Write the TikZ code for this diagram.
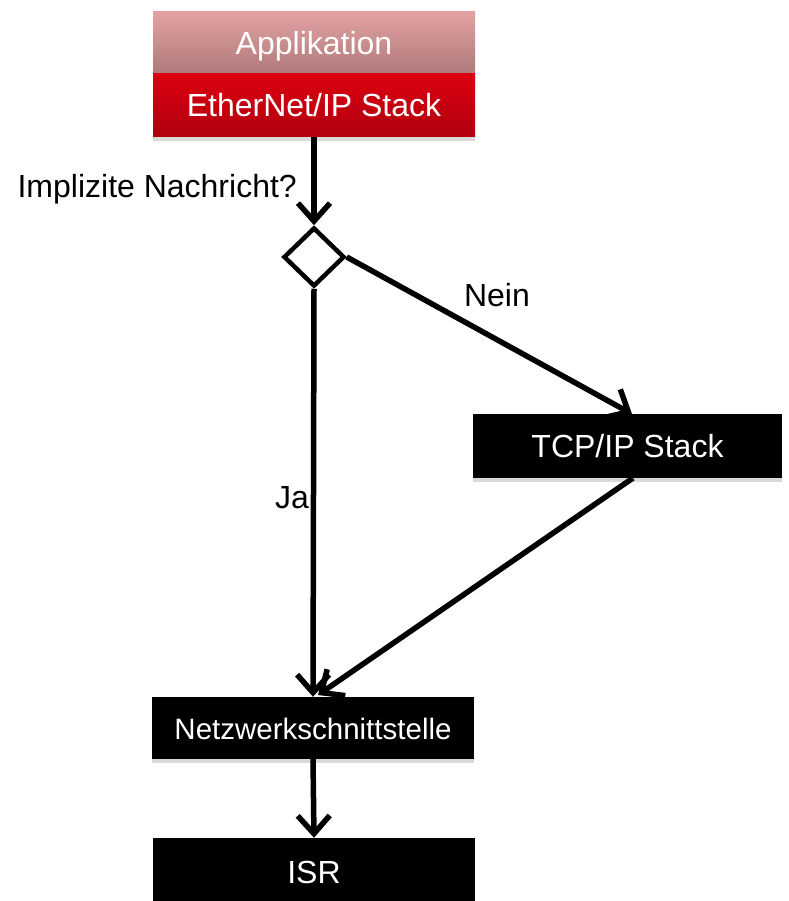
\documentclass[tikz,border=0pt]{standalone}
\usepackage{fontspec}
\setmainfont{Liberation Sans}
\usetikzlibrary{arrows.meta,shapes.geometric,shadows}
\tikzset{
  conn/.style={line width=5.5pt, -{Straight Barb[length=18pt,width=32pt]}},
  lbl/.style={font=\fontsize{32}{38}\selectfont, text=black, inner sep=0pt},
  blackbox/.style={fill=black, text=white, inner sep=0pt, font=\fontsize{32}{38}\selectfont,
    drop shadow={opacity=0.3, shadow xshift=0pt, shadow yshift=-4pt}},
  appbox/.style={top color=appTop, bottom color=appBot, text=white, inner sep=0pt,
    font=\fontsize{32}{38}\selectfont},
  ethbox/.style={top color=ethTop, bottom color=ethBot, text=white, inner sep=0pt,
    font=\fontsize{32}{38}\selectfont,
    drop shadow={opacity=0.3, shadow xshift=0pt, shadow yshift=-4pt}},
  decision/.style={diamond, draw=black, fill=white, line width=4.5pt, minimum width=61pt,
    minimum height=59pt, inner sep=0pt}
}
\definecolor{appTop}{RGB}{226,162,162}
\definecolor{appBot}{RGB}{176,122,122}
\definecolor{ethTop}{RGB}{220,0,16}
\definecolor{ethBot}{RGB}{176,0,14}
\begin{document}
\begin{tikzpicture}[x=1pt,y={(0pt,-1pt)}]
\useasboundingbox (0,0) rectangle (788,901);
% top stack
\node[ethbox, minimum width=322pt, minimum height=64pt] (eth) at (314,105) {EtherNet/IP Stack};
\node[appbox, minimum width=322pt, minimum height=61pt, text height=31pt, text depth=7pt] (app) at (314,42.5) {Applikation};
% decision
\node[decision] (dec) at (314,257) {};
% other boxes
\node[blackbox, minimum width=309pt, minimum height=64pt, text height=26pt, text depth=4pt] (tcp) at (627.5,446) {TCP/IP Stack};
\node[blackbox, minimum width=322pt, minimum height=62pt, font=\fontsize{29.5}{35}\selectfont, text height=25pt, text depth=3pt] (net) at (313,728) {Netzwerkschnittstelle};
\node[blackbox, minimum width=322pt, minimum height=68pt] (isr) at (314,872) {ISR};
% connector end points
\coordinate (tcpin) at (632,414);
\coordinate (tcpout) at (633,478);
\coordinate (netin) at (318,695);
% connectors
\draw[conn] (eth.south) -- (dec.north);
\draw[conn] (dec.south) -- (net.north);
\draw[conn] (dec.east) -- (tcpin);
\draw[conn] (tcpout) -- (netin);
\draw[conn] (net.south) -- (isr.north);
% labels
\node[lbl, anchor=east] (q) at (297,189) {Implizite Nachricht?};
\node[lbl] (nein) at (497,295) {Nein};
\node[lbl, anchor=east] (ja) at (309,498) {Ja};
\end{tikzpicture}
\end{document}
